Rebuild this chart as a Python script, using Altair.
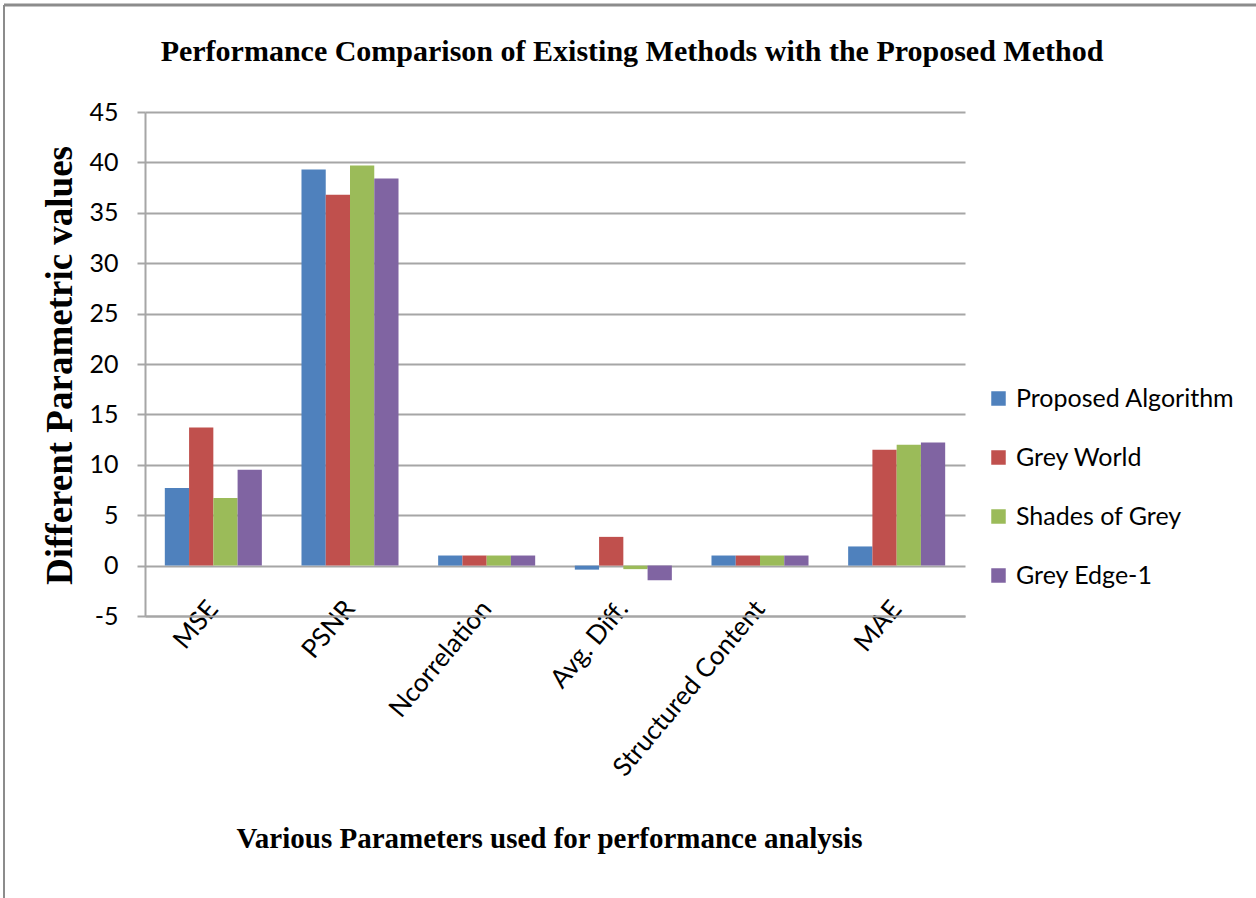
import altair as alt
import pandas as pd

# Parameters on the category axis
categories = ["MSE", "PSNR", "Ncorrelation", "Avg. Diff.", "Structured Content", "MAE"]

# One value per parameter for each method
methods = ["Proposed Algorithm", "Grey World", "Shades of Grey", "Grey Edge-1"]
proposed_algorithm = [7.7, 39.3, 1.0, -0.4, 1.0, 1.9]
grey_world = [13.7, 36.8, 1.0, 2.85, 1.0, 11.5]
shades_of_grey = [6.7, 39.7, 1.0, -0.35, 1.0, 12.0]
grey_edge_1 = [9.5, 38.4, 1.0, -1.45, 1.0, 12.2]

colors = ["#4F81BD", "#C0504D", "#9BBB59", "#8064A2"]
y_ticks = [-5, 0, 5, 10, 15, 20, 25, 30, 35, 40, 45]
chart_title = "Performance Comparison of  Existing Methods with the Proposed Method"

series = [proposed_algorithm, grey_world, shades_of_grey, grey_edge_1]
rows = []
for m, vals in zip(methods, series):
    for c, v in zip(categories, vals):
        rows.append({"Parameter": c, "Method": m, "Value": v})
df = pd.DataFrame(rows)

W, H = 820, 504

bars = alt.Chart(df).mark_bar(stroke=None).encode(
    x=alt.X(
        "Parameter:N",
        sort=categories,
        scale=alt.Scale(paddingInner=0.29, paddingOuter=0.145),
        axis=alt.Axis(
            title="Various Parameters used for performance analysis",
            titleFont="Liberation Serif",
            titleFontWeight="bold",
            titleFontSize=29,
            titleColor="#000000",
            titleX=W / 2 - 6,
            titleY=222,
            titleBaseline="middle",
            titleAlign="center",
            labelAngle=-50,
            labelFont="Lato",
            labelFontSize=26,
            labelColor="#000000",
            labelPadding=-12,
            labelLimit=0,
            ticks=False,
            domainColor="#A6A6A6",
            domainWidth=2,
            labelOverlap=False,
        ),
    ),
    xOffset=alt.XOffset("Method:N", sort=methods, scale=alt.Scale(paddingInner=0, paddingOuter=0)),
    y=alt.Y(
        "Value:Q",
        scale=alt.Scale(domain=[-5, 45], nice=False, zero=False),
        axis=alt.Axis(
            values=y_ticks,
            labelExpr="'' + datum.value",
            title="Different Parametric values",
            titleFont="Liberation Serif",
            titleFontWeight="bold",
            titleFontSize=37,
            titleColor="#000000",
            titleAngle=-90,
            titleX=-85,
            titleY=H / 2 + 1,
            titleAlign="center",
            titleBaseline="middle",
            labelFont="Lato",
            labelFontSize=25,
            labelColor="#000000",
            labelPadding=19,
            tickSize=8,
            tickColor="#A6A6A6",
            tickWidth=2,
            domainColor="#A6A6A6",
            domainWidth=2,
            gridColor="#A6A6A6",
            gridWidth=2,
        ),
    ),
    color=alt.Color(
        "Method:N",
        sort=methods,
        scale=alt.Scale(domain=methods, range=colors),
        legend=alt.Legend(
            title=None,
            orient="none",
            legendX=841,
            legendY=274,
            symbolType="square",
            symbolSize=210,
            symbolStrokeWidth=0,
            labelFont="Lato",
            labelFontSize=25,
            labelColor="#000000",
            labelLimit=0,
            rowPadding=33,
            labelOffset=5,
        ),
    ),
)

# Chart heading, centred over the page
heading = alt.Chart(pd.DataFrame({"t": [chart_title]})).mark_text(
    font="Liberation Serif",
    fontWeight="bold",
    fontSize=30,
    color="#000000",
    align="center",
    baseline="middle",
).encode(text="t:N", x=alt.value(487), y=alt.value(-60))

# Page frame: left and top edges
frame_left = alt.Chart(pd.DataFrame({"k": [0]})).mark_rule(color="#8C8C8C", strokeWidth=2).encode(
    x=alt.value(-141), y=alt.value(-107), y2=alt.value(800)
)
frame_top = alt.Chart(pd.DataFrame({"k": [0]})).mark_rule(color="#8C8C8C", strokeWidth=3).encode(
    x=alt.value(-141), x2=alt.value(1120), y=alt.value(-107)
)

chart = alt.layer(bars, heading, frame_left, frame_top).properties(
    width=W,
    height=H,
    autosize=alt.AutoSizeParams(type="none"),
    padding={"left": 145, "top": 112, "right": 291, "bottom": 282},
).configure(background="#FFFFFF", view=alt.ViewConfig(stroke=None))

chart.save("out.html", embed_options={"renderer": "svg", "actions": False})
